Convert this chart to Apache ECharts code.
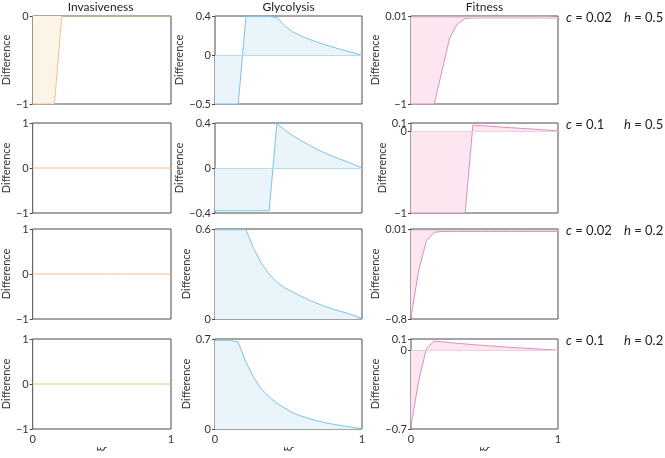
<!DOCTYPE html>
<html><head><meta charset="utf-8">
<script src="https://cdn.jsdelivr.net/npm/echarts@6/dist/echarts.min.js"></script>
<style>html,body{margin:0;padding:0;background:#fff}#c{width:665px;height:458px}</style>
</head><body><div id="c"></div>
<script>
// ---- data ----
const xi = [0,0.0526,0.1053,0.1579,0.2105,0.2632,0.3158,0.3684,0.4211,0.4737,0.5263,0.5789,0.6316,0.6842,0.7368,0.7895,0.8421,0.8947,0.9474,1];
const columnTitles = ['Invasiveness','Glycolysis','Fitness'];
const cValues = ['0.02','0.1','0.02','0.1'];
const hValues = ['0.5','0.5','0.2','0.2'];

const invasiveness1 = [-1,-1,-1,-1,0,0,0,0,0,0,0,0,0,0,0,0,0,0,0,0];
const invasiveness2 = [0,0,0,0,0,0,0,0,0,0,0,0,0,0,0,0,0,0,0,0];
const invasiveness3 = [0,0,0,0,0,0,0,0,0,0,0,0,0,0,0,0,0,0,0,0];
const invasiveness4 = [0,0,0,0,0,0,0,0,0,0,0,0,0,0,0,0,0,0,0,0];

const glycolysis1 = [-0.5,-0.5,-0.5,-0.5,0.395,0.395,0.395,0.395,0.385,0.30,0.24,0.20,0.168,0.138,0.112,0.088,0.064,0.042,0.021,0];
const glycolysis2 = [-0.38,-0.38,-0.38,-0.38,-0.38,-0.38,-0.38,-0.38,0.395,0.34,0.29,0.248,0.21,0.173,0.14,0.11,0.082,0.058,0.03,0];
const glycolysis3 = [0.595,0.595,0.595,0.595,0.595,0.47,0.37,0.30,0.245,0.208,0.182,0.155,0.13,0.108,0.088,0.07,0.054,0.04,0.022,0.005];
const glycolysis4 = [0.69,0.69,0.69,0.675,0.52,0.40,0.31,0.25,0.20,0.163,0.128,0.103,0.085,0.067,0.052,0.04,0.03,0.02,0.011,0.003];

const fitness1 = [-1,-1,-1,-1,-0.62,-0.24,-0.08,-0.02,-0.012,-0.012,-0.012,-0.012,-0.012,-0.012,-0.012,-0.012,-0.012,-0.012,-0.012,-0.012];
const fitness2 = [-1,-1,-1,-1,-1,-1,-1,-1,0.075,0.068,0.061,0.055,0.048,0.042,0.036,0.03,0.024,0.017,0.01,0.003];
const fitness3 = [-0.78,-0.36,-0.095,-0.02,-0.012,-0.012,-0.012,-0.012,-0.012,-0.012,-0.012,-0.012,-0.012,-0.012,-0.012,-0.012,-0.012,-0.012,-0.012,-0.012];
const fitness4 = [-0.67,-0.27,0.018,0.082,0.075,0.068,0.062,0.056,0.05,0.045,0.04,0.035,0.03,0.025,0.021,0.017,0.013,0.009,0.005,0.001];

const invasivenessRanges = [[-1,0],[-1,1],[-1,1],[-1,1]];
const glycolysisRanges = [[-0.5,0.4],[-0.4,0.4],[0,0.6],[0,0.7]];
const fitnessRanges = [[-1,0.01],[-1,0.1],[-0.8,0.01],[-0.7,0.1]];

// tick labels at the ends of each axis, and inner tick labels
const invasivenessTicks = [[-1,0],[-1,1],[-1,1],[-1,1]];
const glycolysisTicks = [[-0.5,0.4],[-0.4,0.4],[0,0.6],[0,0.7]];
const fitnessTicks = [[-1,0.01],[-1,0.1],[-0.8,0.01],[-0.7,0.1]];
const invasivenessInner = [[],[0],[0],[0]];
const glycolysisInner = [[0],[0],[],[]];
const fitnessInner = [[],[0],[],[0]];

const xTicks = [0,1];

// ---- layout / style ----
const FONT = 'Lato';
const colLeft = [30, 215, 411];
const colWidth = [141, 147, 147];
const rowTop = [16, 123, 229, 339];
const rowHeight = [88, 90, 90, 90];
const colStyle = [
  {line:'#f2c08a', fill:'#fdf4e8', zero:'#f2c08a'},
  {line:'#7cc2e6', fill:'#eaf5fb', zero:'#b8dcef'},
  {line:'#e38cbf', fill:'#fce7f1', zero:'#efcfe0'}
];
const colData = [
  [invasiveness1, invasiveness2, invasiveness3, invasiveness4],
  [glycolysis1, glycolysis2, glycolysis3, glycolysis4],
  [fitness1, fitness2, fitness3, fitness4]
];
const colRanges = [invasivenessRanges, glycolysisRanges, fitnessRanges];
const colTicks = [invasivenessTicks, glycolysisTicks, fitnessTicks];
const colInner = [invasivenessInner, glycolysisInner, fitnessInner];
const nameGaps = [20, 18, 16];

const fmt = v => (v < 0 ? '\u2212' + Math.abs(v) : String(v));
const labelStyle = {fontFamily: FONT, fontSize: 11, color: '#333', margin: 4,
  showMinLabel: true, showMaxLabel: true, formatter: fmt};

const grid = [], xAxis = [], yAxis = [], series = [], graphic = [];
let k = 0;
for (let r = 0; r < 4; r++) {
  for (let c = 0; c < 3; c++) {
    grid.push({left: colLeft[c], top: rowTop[r], width: colWidth[c], height: rowHeight[r],
      show: true, borderColor: '#4a4a4a', borderWidth: 1, backgroundColor: 'transparent', z: 3});
    const bottom = r === 3;
    xAxis.push({type: 'value', gridIndex: k, min: 0, max: 1,
      axisLine: {show: false, onZero: false}, splitLine: {show: false},
      axisTick: {show: false},
      axisLabel: {show: bottom, customValues: xTicks, fontFamily: FONT, fontSize: 11, color: '#333', margin: 5,
        showMinLabel: true, showMaxLabel: true},
      name: bottom ? 'ξ' : '', nameLocation: 'middle', nameGap: 13, nameRotate: 90,
      nameTextStyle: {fontFamily: FONT, fontSize: 11, color: '#333'}});
    const rg = colRanges[c][r];
    const mainIdx = yAxis.length;
    yAxis.push({type: 'value', gridIndex: k, min: rg[0], max: rg[1], position: 'left',
      axisLine: {show: false, onZero: false}, splitLine: {show: false},
      axisTick: {show: true, length: 3, customValues: colTicks[c][r], lineStyle: {color: '#4a4a4a'}},
      axisLabel: Object.assign({customValues: colTicks[c][r]}, labelStyle),
      name: 'Difference', nameLocation: 'middle', nameGap: nameGaps[c], nameRotate: 90,
      nameTextStyle: {fontFamily: FONT, fontSize: 11, color: '#333'}});
    const inner = colInner[c][r];
    if (inner.length) {
      yAxis.push({type: 'value', gridIndex: k, min: rg[0], max: rg[1], position: 'left', offset: 0,
        axisLine: {show: false, onZero: false}, splitLine: {show: false},
        axisTick: {show: true, length: 3, customValues: inner, lineStyle: {color: '#4a4a4a'}},
        axisLabel: Object.assign({customValues: inner}, labelStyle)});
    }
    const st = colStyle[c];
    const arr = colData[c][r];
    const s = {type: 'line', xAxisIndex: k, yAxisIndex: mainIdx, showSymbol: false, symbol: 'none',
      data: xi.map((x, i) => [x, arr[i]]), z: 4,
      lineStyle: {color: st.line, width: 1}, itemStyle: {color: st.line},
      areaStyle: {color: st.fill, opacity: 1}, silent: true};
    if (rg[0] < 0 && rg[1] > 0 && c > 0) {
      s.markLine = {silent: true, symbol: 'none', label: {show: false},
        lineStyle: {color: st.zero, type: 'solid', width: 1}, data: [{yAxis: 0}]};
    }
    series.push(s);
    k++;
  }
  graphic.push({type: 'text', left: 566, top: rowTop[r] - 5,
    style: {text: '{i|c} = ' + cValues[r], font: '13px ' + FONT, fill: '#222',
      rich: {i: {fontStyle: 'italic', fontSize: 13, fontFamily: FONT, fill: '#222'}}}});
  graphic.push({type: 'text', left: 624, top: rowTop[r] - 5,
    style: {text: '{i|h} = ' + hValues[r], font: '13px ' + FONT, fill: '#222',
      rich: {i: {fontStyle: 'italic', fontSize: 13, fontFamily: FONT, fill: '#222'}}}});
}
for (let c = 0; c < 3; c++) {
  graphic.push({type: 'text', x: colLeft[c] + colWidth[c] / 2, y: 1,
    style: {text: columnTitles[c], font: '12px ' + FONT, fill: '#222', align: 'center', verticalAlign: 'top'}});
}

const chart = echarts.init(document.getElementById('c'), null, {renderer: 'canvas'});
chart.setOption({animation: false, backgroundColor: '#fff', grid, xAxis, yAxis, series, graphic});
</script>
</body></html>
